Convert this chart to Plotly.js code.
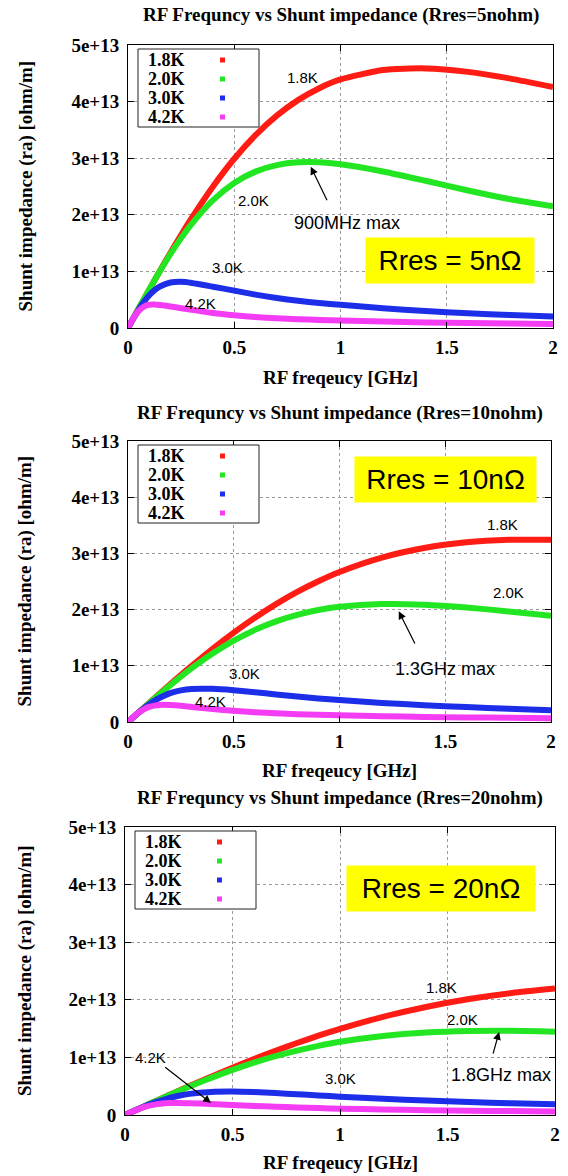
<!DOCTYPE html>
<html><head><meta charset="utf-8">
<script src="https://cdn.plot.ly/plotly-3.0.1.min.js"></script>
<style>html,body{margin:0;padding:0;background:#fff}#chart{width:568px;height:1176px}</style>
</head><body><div id="chart"></div>
<script>
// ---------------- data (shunt impedance in units of 1e13 ohm/m) ----------------
const freq = [0,0.025,0.05,0.075,0.1,0.125,0.15,0.2,0.25,0.3,0.4,0.5,0.6,0.7,0.8,0.9,1.0,1.2,1.4,1.6,1.8,2.0];
const temps = ['1.8K','2.0K','3.0K','4.2K'];

// Rres = 5 nOhm
const r5_18K = [0,0.170,0.340,0.508,0.676,0.843,1.008,1.331,1.644,1.944,2.500,2.990,3.407,3.751,4.026,4.237,4.391,4.558,4.587,4.525,4.406,4.257];
const r5_20K = [0,0.172,0.344,0.514,0.681,0.844,1.004,1.308,1.588,1.841,2.260,2.563,2.763,2.878,2.927,2.928,2.894,2.766,2.602,2.430,2.275,2.150];
const r5_30K = [0,0.168,0.326,0.465,0.579,0.669,0.734,0.803,0.815,0.796,0.730,0.660,0.590,0.530,0.480,0.440,0.410,0.350,0.300,0.260,0.230,0.205];
const r5_42K = [0,0.172,0.303,0.379,0.410,0.413,0.405,0.380,0.350,0.320,0.265,0.225,0.195,0.172,0.155,0.142,0.132,0.113,0.098,0.087,0.078,0.071];
// Rres = 10 nOhm
const r10_18K = [0,0.085,0.170,0.255,0.339,0.423,0.507,0.673,0.836,0.995,1.303,1.591,1.857,2.098,2.314,2.504,2.669,2.925,3.096,3.197,3.241,3.244];
const r10_20K = [0,0.084,0.168,0.251,0.334,0.416,0.497,0.655,0.808,0.953,1.219,1.448,1.639,1.791,1.907,1.992,2.049,2.098,2.087,2.038,1.968,1.888];
const r10_30K = [0,0.085,0.167,0.244,0.314,0.377,0.431,0.513,0.563,0.588,0.590,0.565,0.530,0.490,0.455,0.420,0.390,0.340,0.300,0.265,0.235,0.210];
const r10_42K = [0,0.088,0.166,0.226,0.268,0.292,0.304,0.302,0.288,0.268,0.230,0.200,0.175,0.155,0.140,0.128,0.118,0.102,0.091,0.082,0.074,0.068];
// Rres = 20 nOhm
const r20_18K = [0,0.0425,0.085,0.1275,0.170,0.212,0.254,0.338,0.421,0.504,0.665,0.822,0.972,1.115,1.250,1.377,1.495,1.704,1.876,2.013,2.119,2.195];
const r20_20K = [0,0.0425,0.085,0.127,0.169,0.212,0.254,0.336,0.416,0.495,0.645,0.784,0.909,1.021,1.118,1.201,1.271,1.372,1.432,1.458,1.461,1.446];
const r20_30K = [0,0.042,0.084,0.125,0.163,0.199,0.232,0.290,0.334,0.367,0.401,0.408,0.398,0.381,0.360,0.339,0.318,0.281,0.250,0.225,0.203,0.185];
const r20_42K = [0,0.043,0.084,0.120,0.149,0.172,0.189,0.207,0.210,0.205,0.192,0.175,0.158,0.143,0.131,0.120,0.110,0.095,0.084,0.075,0.068,0.062];

const xTickVals = [0,0.5,1,1.5,2];
const xTickText = ['0','0.5','1','1.5','2'];
const yTickVals = [0,1e13,2e13,3e13,4e13,5e13];
const yTickText = ['0','1e+13','2e+13','3e+13','4e+13','5e+13'];

const panelTitles = ['RF Frequncy vs Shunt impedance (Rres=5nohm)','RF Frequncy vs Shunt impedance (Rres=10nohm)','RF Frequncy vs Shunt impedance (Rres=20nohm)'];
const rresLabels = ['Rres = 5nΩ','Rres = 10nΩ','Rres = 20nΩ'];
const xTitle = 'RF freqeucy [GHz]';
const yTitle = 'Shunt impedance (ra) [ohm/m]';
const series = [[r5_18K,r5_20K,r5_30K,r5_42K],[r10_18K,r10_20K,r10_30K,r10_42K],[r20_18K,r20_20K,r20_30K,r20_42K]];

// annotation text positions (data coords: GHz, 1e13 ohm/m)
const curveLabels = [
  [{t:'1.8K',x:0.82,y:4.42},{t:'2.0K',x:0.59,y:2.26},{t:'3.0K',x:0.47,y:1.06},{t:'4.2K',x:0.34,y:0.44}],
  [{t:'1.8K',x:1.77,y:3.52},{t:'2.0K',x:1.80,y:2.30},{t:'3.0K',x:0.55,y:0.87},{t:'4.2K',x:0.39,y:0.37}],
  [{t:'1.8K',x:1.47,y:2.22},{t:'2.0K',x:1.57,y:1.65},{t:'3.0K',x:1.00,y:0.64},{t:'4.2K',x:0.12,y:0.99}]
];
const maxLabels = [{t:'900MHz max',x:1.03,y:1.85},{t:'1.3GHz max',x:1.50,y:0.94},{t:'1.8GHz max',x:1.75,y:0.69}];
const arrows = [
  [{x0:0.94,y0:2.23,x1:0.86,y1:2.85}],
  [{x0:1.36,y0:1.37,x1:1.28,y1:1.97}],
  [{x0:1.71,y0:1.04,x1:1.74,y1:1.44},{x0:0.18,y0:0.85,x1:0.40,y1:0.21}]
];
const rresBox = [{x:1.515,y:1.19,w:168},{x:1.50,y:4.31,w:181},{x:1.47,y:3.94,w:188}];

// ---------------- styling / layout ----------------
const W=568,H=1176;
const colors = ['#ff1c14','#22e622','#1c2ee8','#f53cf5'];
const geom = [
  {x:[128,553], y:[45,328], title:15, xt:378},
  {x:[128,551], y:[441,722], title:413, xt:770},
  {x:[125,555], y:[827,1115], title:798, xt:1162}
];
const serif = 'Liberation Serif, Times New Roman, serif';
const sans = 'Liberation Sans, Arial, sans-serif';
const px = v=>v/W, py = v=>1-v/H;

const traces=[]; const layout={width:W,height:H,margin:{l:0,r:0,t:0,b:0},paper_bgcolor:'#fff',plot_bgcolor:'#fff',showlegend:false,annotations:[],shapes:[]};

geom.forEach((g,i)=>{
  const s = i===0?'':String(i+1);
  series[i].forEach((vals,j)=>{
    traces.push({x:freq,y:vals.map(v=>v*1e13),type:'scatter',mode:'lines',
      line:{color:colors[j],width:6,shape:'spline',smoothing:0.6},
      xaxis:'x'+s,yaxis:'y'+s,hoverinfo:'skip',name:temps[j]});
  });
  const common = {ticks:'inside',ticklen:6,tickcolor:'#000',tickwidth:1,showline:true,linecolor:'#000',linewidth:1,mirror:'ticks',
    showgrid:true,gridcolor:'#9a9a9a',griddash:'dot',gridwidth:1,zeroline:false,fixedrange:true,
    tickfont:{family:serif,size:19,weight:'bold',color:'#000'}};
  layout['xaxis'+s] = Object.assign({},common,{domain:[px(g.x[0]),px(g.x[1])],range:[0,2],tickvals:xTickVals,ticktext:xTickText,anchor:'y'+s,ticklabelstandoff:2});
  layout['yaxis'+s] = Object.assign({},common,{domain:[py(g.y[1]),py(g.y[0])],range:[0,5e13],tickvals:yTickVals,ticktext:yTickText,anchor:'x'+s,ticklabelstandoff:4});
  const xr='x'+s, yr='y'+s;
  // titles
  layout.annotations.push({text:panelTitles[i],xref:'paper',yref:'paper',x:px((g.x[0]+g.x[1])/2),y:py(g.title),showarrow:false,xanchor:'center',yanchor:'middle',font:{family:serif,size:19,weight:'bold',color:'#000'}});
  layout.annotations.push({text:xTitle,xref:'paper',yref:'paper',x:px((g.x[0]+g.x[1])/2),y:py(g.xt),showarrow:false,xanchor:'center',yanchor:'middle',font:{family:serif,size:19,weight:'bold',color:'#000'}});
  layout.annotations.push({text:yTitle,xref:'paper',yref:'paper',x:px(25),y:py((g.y[0]+g.y[1])/2),textangle:-90,showarrow:false,xanchor:'center',yanchor:'middle',font:{family:serif,size:19,weight:'bold',color:'#000'}});
  // curve labels
  curveLabels[i].forEach(c=>layout.annotations.push({text:c.t,xref:xr,yref:yr,x:c.x,y:c.y*1e13,showarrow:false,font:{family:sans,size:15,color:'#000'}}));
  const m=maxLabels[i];
  layout.annotations.push({text:m.t,xref:xr,yref:yr,x:m.x,y:m.y*1e13,showarrow:false,font:{family:sans,size:18,color:'#000'}});
  arrows[i].forEach(a=>layout.annotations.push({text:'',xref:xr,yref:yr,x:a.x1,y:a.y1*1e13,axref:xr,ayref:yr,ax:a.x0,ay:a.y0*1e13,showarrow:true,arrowhead:2,arrowsize:1.3,arrowwidth:1.2,arrowcolor:'#000'}));
  const b=rresBox[i];
  layout.annotations.push({text:rresLabels[i],xref:xr,yref:yr,x:b.x,y:b.y*1e13,showarrow:false,bgcolor:'#ffff00',width:b.w,height:45,borderpad:0,font:{family:sans,size:28,color:'#000'}});
  // legend box
  const L=g.x[0], T=g.y[0];
  layout.shapes.push({type:'rect',xref:'paper',yref:'paper',x0:px(L+10),x1:px(L+131),y0:py(T+4),y1:py(T+82),line:{color:'#222',width:1},fillcolor:'#fff'});
  temps.forEach((t,j)=>{
    const ry=T+15+19*j;
    layout.annotations.push({text:t,xref:'paper',yref:'paper',x:px(L+18),y:py(ry),xanchor:'left',yanchor:'middle',showarrow:false,font:{family:serif,size:18,weight:'bold',color:'#000'}});
    layout.shapes.push({type:'rect',xref:'paper',yref:'paper',x0:px(L+92),x1:px(L+97),y0:py(ry-2.5),y1:py(ry+2.5),line:{width:0},fillcolor:colors[j]});
  });
});

Plotly.newPlot('chart',traces,layout,{staticPlot:true,displayModeBar:false});
</script>
</body></html>
